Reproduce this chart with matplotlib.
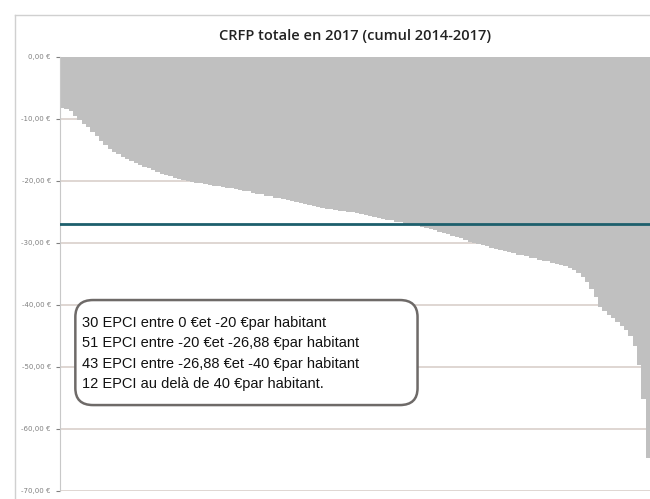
import numpy as np
import matplotlib.pyplot as plt
from matplotlib.patches import FancyBboxPatch
from matplotlib.lines import Line2D

# CRFP par habitant, EPCI triés (136 EPCI)
crfp_0_20 = [-8.1, -8.3, -8.6, -9.4, -10.0, -10.6, -11.2, -11.9, -12.6, -13.4,
             -14.1, -14.6, -15.1, -15.5, -15.9, -16.3, -16.6, -16.9, -17.2, -17.5,
             -17.8, -18.1, -18.4, -18.7, -18.9, -19.1, -19.3, -19.5, -19.7, -19.9]
crfp_20_2688 = [-20.0, -20.1, -20.2, -20.4, -20.5, -20.6, -20.7, -20.8, -20.9, -21.0,
                -21.1, -21.3, -21.4, -21.5, -21.7, -21.9, -22.0, -22.2, -22.3, -22.5,
                -22.6, -22.8, -22.9, -23.1, -23.2, -23.4, -23.5, -23.7, -23.9, -24.1,
                -24.2, -24.3, -24.4, -24.5, -24.6, -24.7, -24.8, -24.9, -25.0, -25.2,
                -25.3, -25.5, -25.6, -25.8, -25.9, -26.1, -26.2, -26.4, -26.5, -26.7,
                -26.8]
crfp_2688_40 = [-26.9, -27.0, -27.2, -27.4, -27.6, -27.8, -28.0, -28.2, -28.4, -28.7,
                -28.9, -29.1, -29.4, -29.6, -29.8, -30.0, -30.2, -30.4, -30.6, -30.8,
                -31.0, -31.2, -31.3, -31.5, -31.7, -31.8, -32.0, -32.2, -32.3, -32.5,
                -32.7, -32.8, -33.0, -33.2, -33.4, -33.6, -33.8, -34.2, -34.7, -35.3,
                -36.2, -37.2, -38.6]
crfp_40_plus = [-40.2, -40.8, -41.4, -42.0, -42.6, -43.2, -43.9, -44.8, -46.5, -49.5,
                -55.0, -64.5]
moyenne = -26.88

yticks = [0, -10, -20, -30, -40, -50, -60, -70]
lignes = ["30 EPCI entre 0 €et -20 €par habitant",
          "51 EPCI entre -20 €et -26,88 €par habitant",
          "43 EPCI entre -26,88 €et -40 €par habitant",
          "12 EPCI au delà de 40 €par habitant."]

valeurs = crfp_0_20 + crfp_20_2688 + crfp_2688_40 + crfp_40_plus
x = np.arange(len(valeurs))

fig = plt.figure(figsize=(6.5, 4.99), dpi=100)
ax = fig.add_axes([60/650, 8/499, 590/650, 434/499])

# barres jointives, sans anticrénelage pour éviter les filets blancs
ax.bar(x, valeurs, width=1.0, color='#c0c0c0', edgecolor='#c0c0c0',
       linewidth=0.6, antialiased=False, zorder=2)
for y in yticks[1:]:
    ax.axhline(y, color='#d9cfcb', lw=1.2, zorder=1)
ax.axhline(moyenne, color='#1d5f6c', lw=2, zorder=3)

ax.set_xlim(-0.5, len(valeurs) - 0.5)
ax.set_ylim(-70, 0)
ax.set_yticks(yticks)
ax.set_yticklabels([('%.2f €' % v).replace('.', ',') for v in yticks])
ax.tick_params(axis='y', labelsize=5, colors='#808080', length=3, width=0.8)
ax.tick_params(axis='x', bottom=False, labelbottom=False)
for s in ['top', 'right', 'bottom']:
    ax.spines[s].set_visible(False)
ax.spines['left'].set_color('#c8c8c8')

ax.set_title("CRFP totale en 2017 (cumul 2014-2017)", fontsize=10.5,
             family='Open Sans', fontweight='semibold', color='#222222',
             pad=12)

# encadré de répartition
boite = FancyBboxPatch((0.026, 0.198), 0.58, 0.242, transform=ax.transAxes,
                       boxstyle="round,pad=0,rounding_size=0.03",
                       facecolor='white', edgecolor='#6e6a68', lw=1.8,
                       zorder=4, mutation_aspect=1.3)
ax.add_patch(boite)
for i, t in enumerate(lignes):
    ax.text(0.037, 0.387 - i * 0.047, t, transform=ax.transAxes, fontsize=10.5,
            family='Liberation Sans', va='center', ha='left', color='#111111',
            zorder=5)

# cadre extérieur
fig.add_artist(Line2D([15/650, 15/650], [0, 1 - 15/499], color='#d0d0d0', lw=1))
fig.add_artist(Line2D([15/650, 1], [1 - 15/499, 1 - 15/499], color='#d0d0d0', lw=1))

fig.savefig('out.png', dpi=100)
